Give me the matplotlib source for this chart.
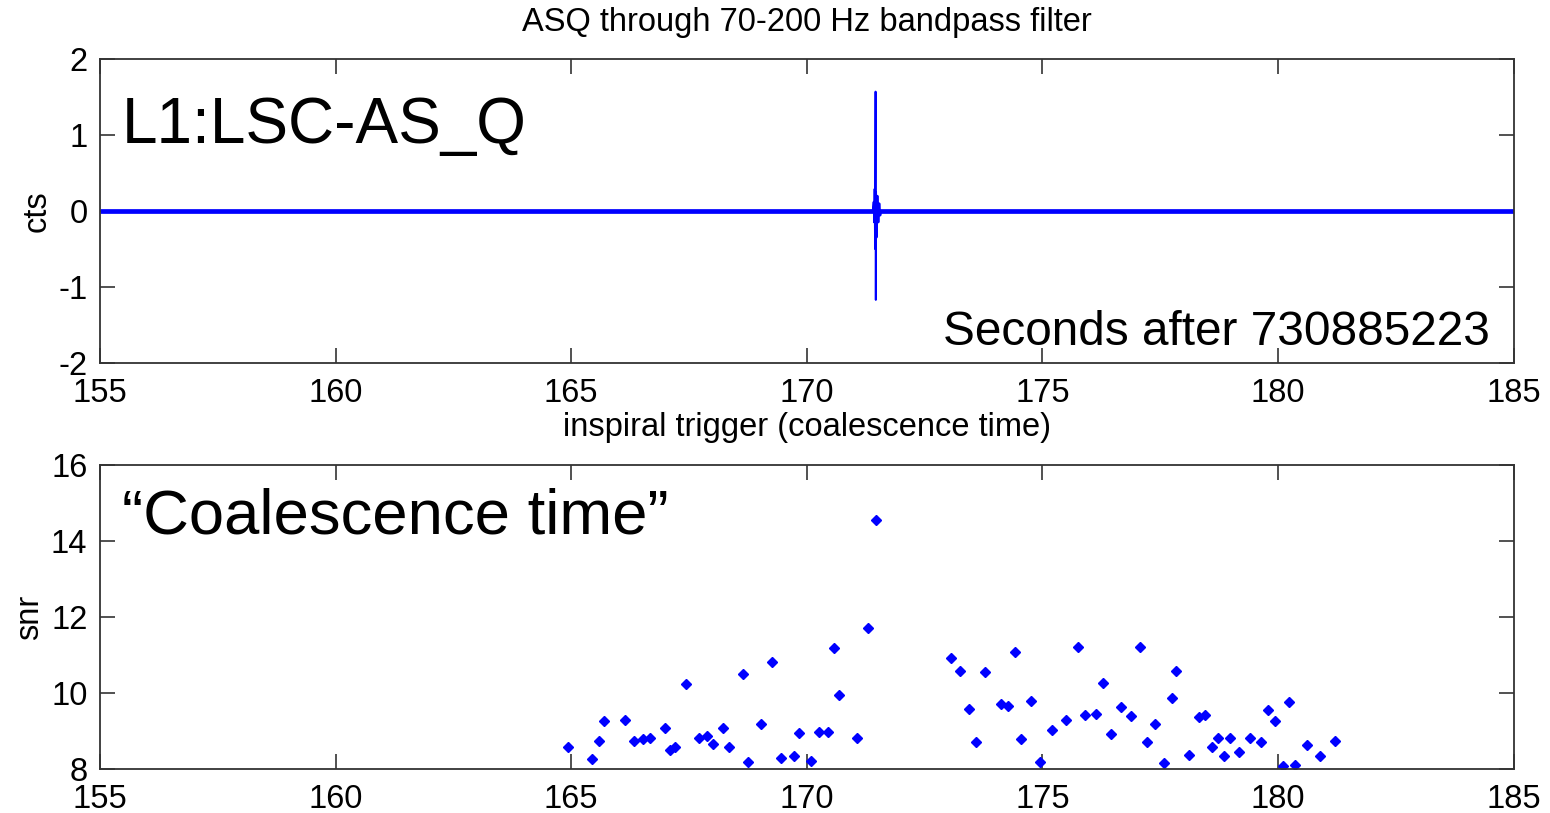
import numpy as np
import matplotlib
matplotlib.use("Agg")
import matplotlib.pyplot as plt

plt.rcParams['font.family'] = ['Liberation Sans', 'DejaVu Sans']
plt.rcParams['axes.unicode_minus'] = False

# top panel: filtered AS_Q channel (baseline + burst samples near the trigger)
baseline_t = [155.0, 185.0]
baseline_v = [0.0, 0.0]
burst_t = [171.40, 171.42, 171.43, 171.44, 171.45, 171.46, 171.465, 171.47,
           171.48, 171.50, 171.52, 171.54, 171.56, 171.58]
burst_v = [0.0, 0.12, -0.15, 0.29, -0.50, 1.57, -1.17, 0.25,
           -0.35, 0.20, -0.15, 0.10, -0.06, 0.0]

# bottom panel: inspiral triggers (coalescence time, snr)
trig_t = [164.94, 165.45, 165.59, 165.69, 166.14, 166.33, 166.52, 166.68,
          167.00, 167.10, 167.20, 167.43, 167.72, 167.88, 168.01, 168.23,
          168.36, 168.64, 168.75, 169.03, 169.26, 169.46, 169.72, 169.84,
          170.08, 170.26, 170.46, 170.58, 170.69, 171.07, 171.30, 171.46,
          173.07, 173.26, 173.45, 173.59, 173.78, 174.13, 174.27, 174.42,
          174.55, 174.75, 174.95, 175.20, 175.50, 175.75, 175.91, 176.14,
          176.29, 176.46, 176.66, 176.88, 177.07, 177.23, 177.39, 177.59,
          177.75, 177.84, 178.11, 178.32, 178.46, 178.59, 178.72, 178.85,
          178.98, 179.17, 179.40, 179.65, 179.79, 179.94, 180.11, 180.23,
          180.37, 180.62, 180.89, 181.20]
trig_snr = [8.58, 8.26, 8.73, 9.26, 9.30, 8.73, 8.78, 8.82,
            9.07, 8.50, 8.59, 10.23, 8.82, 8.86, 8.66, 9.07,
            8.58, 10.50, 8.18, 9.18, 10.82, 8.29, 8.34, 8.94,
            8.22, 8.98, 8.98, 11.18, 9.94, 8.82, 11.70, 14.55,
            10.91, 10.58, 9.58, 8.70, 10.55, 9.70, 9.66, 11.07,
            8.79, 9.80, 8.18, 9.03, 9.30, 11.22, 9.41, 9.46,
            10.27, 8.91, 9.64, 9.39, 11.22, 8.70, 9.18, 8.17,
            9.86, 10.58, 8.38, 9.38, 9.42, 8.58, 8.82, 8.34,
            8.82, 8.46, 8.82, 8.70, 9.55, 9.27, 8.07, 9.76,
            8.10, 8.62, 8.34, 8.74]

xticks = [155, 160, 165, 170, 175, 180, 185]
top_yticks = [-2, -1, 0, 1, 2]
bot_yticks = [8, 10, 12, 14, 16]

FS = 23.5
fig = plt.figure(figsize=(15.5, 8.13), dpi=100)
ax1 = fig.add_axes([0.0645, 0.5535, 0.912, 0.374])
ax2 = fig.add_axes([0.0645, 0.0541, 0.912, 0.374])


def style(ax):
    ax.tick_params(direction='in', length=11, width=1.2, top=True, right=True,
                   labelsize=FS, colors='#333333', labelcolor='black')
    ax.tick_params(axis='x', pad=11)
    ax.tick_params(axis='y', pad=9)
    for s in ax.spines.values():
        s.set_linewidth(1.3)
        s.set_color('#333333')


ax1.plot(baseline_t, baseline_v, color='#0000ff', lw=3.4, solid_capstyle='butt')
ax1.plot(burst_t, burst_v, color='#0000ff', lw=1.4)
ax1.set_xlim(155, 185)
ax1.set_ylim(-2, 2)
ax1.set_xticks(xticks)
ax1.set_yticks(top_yticks)
ax1.set_ylabel('cts', fontsize=FS, labelpad=4)
ax1.set_xlabel('inspiral trigger (coalescence time)', fontsize=FS, labelpad=2)
ax1.set_title('ASQ through 70-200 Hz bandpass filter', fontsize=FS, pad=20)
ax1.text(0.0156, 0.724, 'L1:LSC-AS_Q', transform=ax1.transAxes,
         fontsize=46, va='baseline', ha='left')
ax1.text(0.983, 0.059, 'Seconds after 730885223', transform=ax1.transAxes,
         fontsize=34.4, va='baseline', ha='right')
style(ax1)

ax2.plot(trig_t, trig_snr, linestyle='none', marker='D', ms=5,
         color='#0000ff', mec='#0000ff')
ax2.set_xlim(155, 185)
ax2.set_ylim(8, 16)
ax2.set_xticks(xticks)
ax2.set_yticks(bot_yticks)
ax2.set_ylabel('snr', fontsize=FS, labelpad=4)
ax2.text(0.0156, 0.775, '\u201cCoalescence time\u201d', transform=ax2.transAxes,
         fontsize=45.6, va='baseline', ha='left')
style(ax2)

fig.savefig('out.png', dpi=100)
